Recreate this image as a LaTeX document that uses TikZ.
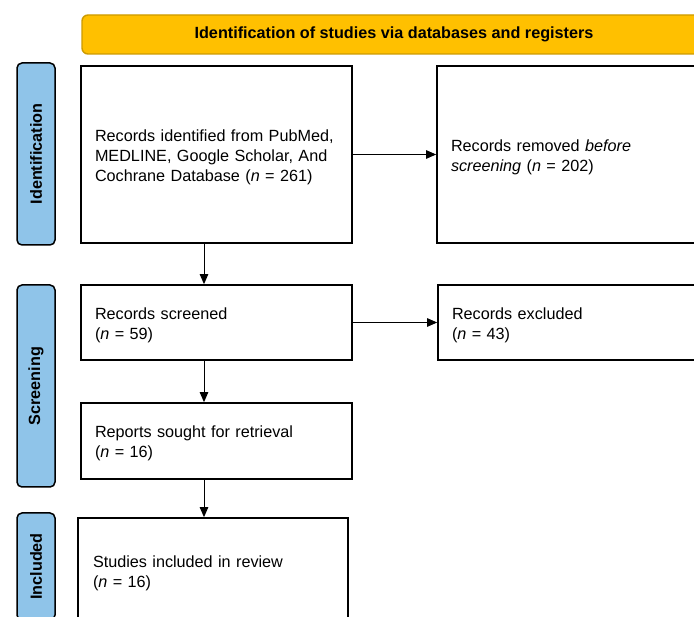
\documentclass[tikz,border=0pt]{standalone}
\usepackage{fontspec}
\setmainfont{Liberation Sans}
\usetikzlibrary{arrows.meta}
\definecolor{phaseblue}{RGB}{143,196,233}
\definecolor{bannerfill}{RGB}{255,192,0}
\definecolor{bannerdraw}{RGB}{205,155,0}
\begin{document}
\begin{tikzpicture}[x=1pt,y=-1pt,
  box/.style={draw=black, line width=1.7pt, fill=white, rectangle, inner xsep=14pt, inner ysep=0pt, align=left, font=\fontsize{16.2}{19.7}\selectfont, execute at begin node={\rule{0pt}{17pt}}},
  phase/.style={draw=black, line width=1.5pt, fill=phaseblue, rounded corners=5pt, rotate=90, inner sep=0pt, font=\bfseries\fontsize{16.2}{18}\selectfont},
  banner/.style={draw=bannerdraw, line width=1.4pt, fill=bannerfill, rounded corners=6pt, inner sep=0pt, font=\bfseries\fontsize{16.2}{18}\selectfont},
  arr/.style={-{Triangle[length=10pt,width=8.5pt]}, line width=1pt}]
\useasboundingbox (0,0) rectangle (694,617);
\clip (0,0) rectangle (694,617);
\fill[white] (0,0) rectangle (694,617);

\node[banner, minimum width=624pt, minimum height=39pt] (title) at (394,34.5) {Identification of studies via databases and registers};

\node[phase, minimum width=182pt, minimum height=38pt] (pid) at (36,154) {Identification};
\node[phase, minimum width=202pt, minimum height=38pt] (pscr) at (36,386) {Screening};
\node[phase, minimum width=107pt, minimum height=38pt] (pinc) at (36,566.5) {Included};

\node[box, text width=243pt, minimum height=177pt] (ident) at (216.5,154.5)
  {Records identified from PubMed,\\ MEDLINE, Google Scholar, And\\ Cochrane Database (\textit{n} = 261)};
\node[box, text width=243pt, minimum height=177pt] (removed) at (572.5,154.5)
  {Records removed \textit{before}\\ \textit{screening} (\textit{n} = 202)};
\node[box, text width=243pt, minimum height=75pt] (screened) at (216.5,322.5)
  {Records screened\\ (\textit{n} = 59)};
\node[box, text width=243pt, minimum height=75pt] (excluded) at (573.5,322.5)
  {Records excluded\\ (\textit{n} = 43)};
\node[box, text width=243pt, minimum height=76pt] (sought) at (216.5,441)
  {Reports sought for retrieval\\ (\textit{n} = 16)};
\node[box, inner xsep=15pt, text width=240pt, minimum height=105pt] (included) at (213,570.5)
  {Studies included in review\\ (\textit{n} = 16)};

\draw[arr] (ident.east) -- (removed.west);
\draw[arr] (screened.east) -- (excluded.west);
\draw[arr] ([xshift=-12.5pt]ident.south) -- ([xshift=-12.5pt]screened.north);
\draw[arr] ([xshift=-12.5pt]screened.south) -- ([xshift=-12.5pt]sought.north);
\draw[arr] ([xshift=-12.5pt]sought.south) -- ([xshift=-9pt]included.north);
\end{tikzpicture}
\end{document}
